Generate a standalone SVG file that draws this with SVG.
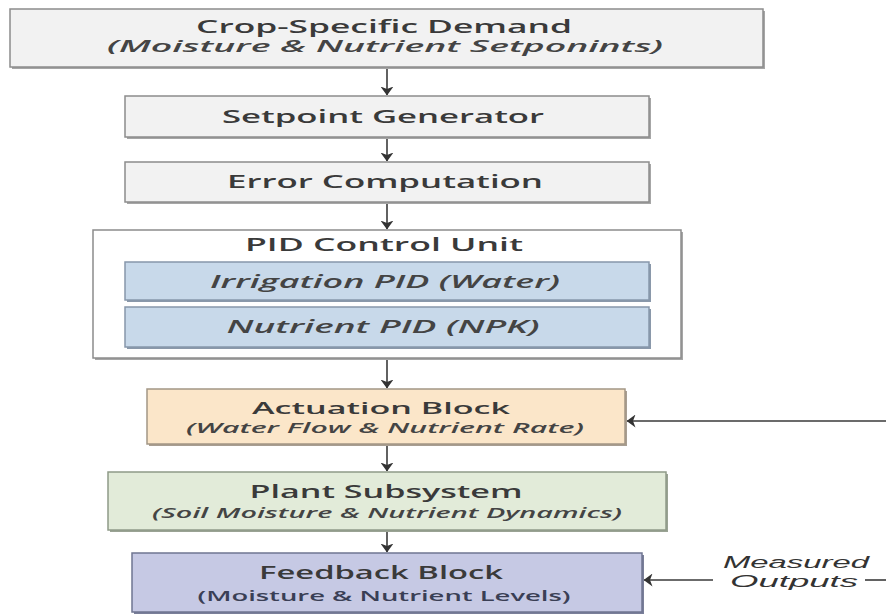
<svg xmlns="http://www.w3.org/2000/svg" width="886" height="614" viewBox="0 0 886 614">
<defs>
<marker id="ah" viewBox="0 0 9 13" refX="8.5" refY="6.5" markerWidth="9" markerHeight="13" markerUnits="userSpaceOnUse" orient="auto">
<path d="M0,0 L9,6.5 L0,13 L2.5,6.5 Z" fill="#333"/>
</marker>
<style>
.t{font-family:"Open Sans","Liberation Sans",sans-serif;font-weight:600;fill:#3a3a3a;text-anchor:middle}
.s{font-family:"Open Sans","Liberation Sans",sans-serif;font-style:italic;font-weight:600;fill:#444;text-anchor:middle}
.m{font-family:"Liberation Sans",Arial,sans-serif;font-style:italic;fill:#333;text-anchor:middle}
.sh{fill:#a6a6a6}
.gray{fill:#f2f2f2;stroke:#8c8c8c;stroke-width:1.5}
.blue{fill:#c8d9ea;stroke:#8797ab;stroke-width:1.5}
.c{stroke:#3a3a3a;stroke-width:1.6;fill:none}
</style>
</defs>
<rect width="886" height="614" fill="#ffffff"/>

<g id="connectors">
<line class="c" x1="387" y1="67" x2="387" y2="95" marker-end="url(#ah)"/>
<line class="c" x1="387" y1="138" x2="387" y2="161" marker-end="url(#ah)"/>
<line class="c" x1="387" y1="203" x2="387" y2="229" marker-end="url(#ah)"/>
<line class="c" x1="387" y1="359" x2="387" y2="388" marker-end="url(#ah)"/>
<line class="c" x1="387" y1="445" x2="387" y2="471" marker-end="url(#ah)"/>
<line class="c" x1="387" y1="531" x2="387" y2="552" marker-end="url(#ah)"/>
<line class="c" x1="886" y1="421" x2="627" y2="421" marker-end="url(#ah)" stroke="#666"/>
<line class="c" x1="713" y1="580" x2="644" y2="580" marker-end="url(#ah)"/>
<line class="c" x1="865" y1="580" x2="886" y2="580"/>
</g>

<g id="crop-demand">
<rect class="sh" x="12" y="11" width="753" height="58"/>
<rect class="gray" x="10" y="9" width="753" height="58"/>
<text class="t" x="384" y="33" font-size="18" textLength="376" lengthAdjust="spacingAndGlyphs">Crop-Specific Demand</text>
<text class="s" x="385" y="52" font-size="16" textLength="556" lengthAdjust="spacingAndGlyphs">(Moisture &amp; Nutrient Setponints)</text>
</g>

<g id="setpoint-generator">
<rect class="sh" x="127" y="98" width="524" height="41"/>
<rect class="gray" x="125" y="96" width="524" height="41"/>
<text class="t" x="383" y="123" font-size="18" textLength="322" lengthAdjust="spacingAndGlyphs">Setpoint Generator</text>
</g>

<g id="error-computation">
<rect class="sh" x="127" y="164" width="524" height="40"/>
<rect class="gray" x="125" y="162" width="524" height="40"/>
<text class="t" x="385" y="188" font-size="18" textLength="316" lengthAdjust="spacingAndGlyphs">Error Computation</text>
</g>

<g id="pid-control-unit">
<rect class="sh" x="95" y="232" width="588" height="128"/>
<rect x="93" y="230" width="588" height="128" fill="#ffffff" stroke="#8c8c8c" stroke-width="1.5"/>
<text class="t" x="384" y="251" font-size="18" fill="#2e2e2e" textLength="278" lengthAdjust="spacingAndGlyphs">PID Control Unit</text>
</g>

<g id="irrigation-pid">
<rect x="127" y="264" width="524" height="38" fill="#8a98aa"/>
<rect class="blue" x="125" y="262" width="524" height="38"/>
<text class="s" x="385" y="288" font-size="18" fill="#2f3542" textLength="350" lengthAdjust="spacingAndGlyphs">Irrigation PID (Water)</text>
</g>

<g id="nutrient-pid">
<rect x="127" y="309" width="524" height="40" fill="#8a98aa"/>
<rect class="blue" x="125" y="307" width="524" height="40"/>
<text class="s" x="383" y="333" font-size="18" fill="#2f3542" textLength="313" lengthAdjust="spacingAndGlyphs">Nutrient PID (NPK)</text>
</g>

<g id="actuation-block">
<rect x="149" y="391" width="478" height="55" fill="#a89e92"/>
<rect x="147" y="389" width="478" height="55" fill="#fbe6c9" stroke="#a39685" stroke-width="1.5"/>
<text class="t" x="381" y="414" font-size="17" textLength="258" lengthAdjust="spacingAndGlyphs">Actuation Block</text>
<text class="s" x="385" y="433" font-size="14" textLength="398" lengthAdjust="spacingAndGlyphs">(Water Flow &amp; Nutrient Rate)</text>
</g>

<g id="plant-subsystem">
<rect x="110" y="474" width="558" height="58" fill="#9aa394"/>
<rect x="108" y="472" width="558" height="58" fill="#e2ebd9" stroke="#8f9a88" stroke-width="1.5"/>
<text class="t" x="386" y="498" font-size="18" fill="#333" textLength="273" lengthAdjust="spacingAndGlyphs">Plant Subsystem</text>
<text class="s" x="387" y="518" font-size="14" textLength="470" lengthAdjust="spacingAndGlyphs">(Soil Moisture &amp; Nutrient Dynamics)</text>
</g>

<g id="feedback-block">
<rect x="134" y="555" width="510" height="59" fill="#7a7f99"/>
<rect x="132" y="553" width="510" height="59" fill="#c6c9e4" stroke="#6f7591" stroke-width="1.5"/>
<text class="t" x="381" y="579" font-size="18" fill="#313a5c" textLength="244" lengthAdjust="spacingAndGlyphs">Feedback Block</text>
<text x="384" y="601" font-size="14" font-family="Open Sans, Liberation Sans, sans-serif" font-weight="600" fill="#3a3f55" text-anchor="middle" textLength="373" lengthAdjust="spacingAndGlyphs">(Moisture &amp; Nutrient Levels)</text>
</g>

<g id="measured-outputs-label">
<text class="m" x="796" y="568" font-size="16" textLength="146" lengthAdjust="spacingAndGlyphs">Measured</text>
<text class="m" x="794" y="587" font-size="16" textLength="128" lengthAdjust="spacingAndGlyphs">Outputs</text>
</g>
</svg>
